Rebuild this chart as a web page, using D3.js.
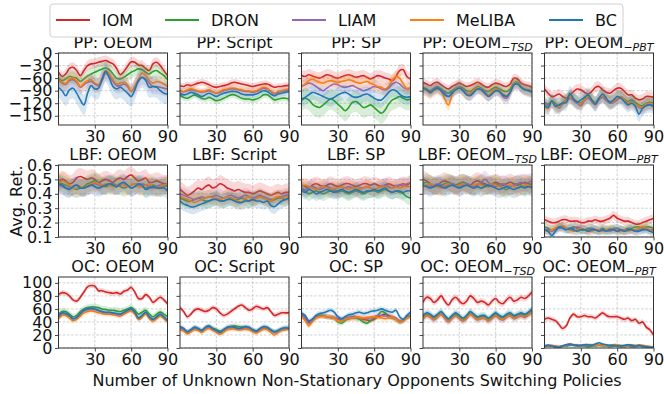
<!DOCTYPE html>
<html><head><meta charset="utf-8">
<script src="https://cdn.jsdelivr.net/npm/d3@7"></script>
<style>body{margin:0;background:#fff}svg text{font-family:"DejaVu Sans",sans-serif;fill:#111}</style>
</head><body><svg id="c" width="664" height="394"></svg>
<script>
// ---------- data ----------
const methods = ["IOM","DRON","LIAM","MeLIBA","BC"];
const colors = ["#d62728","#2ca02c","#9467bd","#ff7f0e","#1f77b4"];
const envs = ["PP","LBF","OC"];
const opponents = ["OEOM","Script","SP","OEOM","OEOM"];
const oppSubs = ["","","","−TSD","−PBT"];
const X = [0,3,6,9,12,15,18,21,24,27,30,33,36,39,42,45,48,51,54,57,60,63,66,69,72,75,78,81,84,87,90];
const xTicks = [30,60,90];
const yTicksPP = [0,-30,-60,-90,-120,-150];
const yTicksLBF = [0.1,0.2,0.3,0.4,0.5,0.6];
const yTicksOC = [0,20,40,60,80,100];

// PP (series order: IOM, DRON, LIAM, MeLIBA, BC)
const PP_OEOM = [
 [-46,-56,-50,-37,-34,-42,-54,-42,-30,-26,-25,-22,-20,-18,-22,-26,-37,-52,-44,-32,-21,-22,-29,-30,-37,-42,-26,-22,-30,-42,-54],
 [-60,-66,-62,-56,-58,-60,-68,-62,-55,-50,-46,-42,-38,-36,-40,-50,-60,-62,-58,-52,-46,-42,-38,-40,-46,-50,-44,-42,-48,-54,-64],
 [-66,-72,-75,-66,-64,-70,-82,-76,-70,-68,-74,-78,-66,-48,-56,-68,-78,-78,-74,-80,-92,-82,-68,-58,-62,-72,-80,-80,-82,-84,-86],
 [-64,-70,-72,-62,-60,-66,-80,-72,-66,-64,-72,-75,-60,-42,-50,-64,-74,-72,-70,-76,-92,-78,-62,-48,-54,-66,-72,-68,-70,-74,-80],
 [-82,-90,-102,-88,-84,-96,-112,-124,-96,-78,-86,-84,-62,-44,-60,-80,-86,-82,-88,-96,-104,-88,-66,-58,-66,-82,-80,-82,-90,-96,-98]];
const PP_Script = [
 [-78,-80,-76,-78,-75,-72,-70,-72,-76,-80,-82,-80,-78,-76,-72,-70,-72,-74,-76,-78,-80,-78,-76,-74,-74,-78,-82,-80,-80,-78,-78],
 [-100,-106,-108,-104,-100,-104,-108,-110,-106,-110,-114,-112,-108,-104,-100,-100,-104,-108,-110,-110,-112,-110,-106,-100,-100,-106,-112,-110,-108,-108,-110],
 [-90,-93,-90,-88,-90,-92,-94,-92,-90,-93,-96,-94,-90,-88,-86,-86,-88,-90,-92,-92,-94,-92,-88,-84,-86,-92,-98,-94,-92,-90,-90],
 [-88,-92,-88,-85,-88,-90,-92,-90,-88,-92,-95,-92,-88,-86,-84,-84,-86,-88,-90,-90,-92,-90,-86,-82,-84,-90,-96,-92,-90,-88,-86],
 [-96,-100,-98,-94,-96,-100,-104,-100,-96,-100,-104,-100,-96,-94,-92,-92,-94,-98,-100,-100,-100,-98,-94,-90,-92,-98,-102,-98,-96,-94,-92]];
const PP_SP = [
 [-54,-56,-52,-55,-58,-60,-56,-52,-54,-58,-60,-57,-54,-52,-55,-58,-56,-54,-58,-62,-58,-54,-56,-60,-62,-66,-56,-42,-40,-56,-62],
 [-114,-108,-112,-122,-128,-130,-124,-116,-110,-114,-122,-130,-138,-130,-118,-116,-122,-130,-128,-124,-130,-138,-144,-136,-122,-112,-108,-104,-108,-112,-110],
 [-80,-76,-72,-74,-80,-86,-90,-84,-78,-74,-76,-80,-82,-80,-78,-82,-86,-90,-88,-84,-80,-82,-86,-88,-84,-74,-70,-74,-82,-86,-84],
 [-78,-74,-66,-62,-66,-70,-72,-68,-66,-68,-70,-68,-66,-64,-66,-70,-72,-70,-68,-72,-76,-80,-82,-86,-80,-64,-56,-60,-74,-84,-82],
 [-110,-106,-100,-94,-96,-100,-104,-108,-110,-106,-100,-96,-94,-98,-104,-106,-104,-100,-98,-102,-108,-112,-112,-104,-94,-88,-90,-98,-104,-106,-104]];
const PP_TSD = [
 [-70,-74,-78,-72,-70,-76,-82,-86,-80,-76,-72,-76,-80,-78,-74,-70,-74,-80,-82,-76,-72,-74,-78,-80,-74,-60,-62,-72,-76,-78,-82],
 [-82,-86,-90,-84,-80,-86,-92,-96,-90,-84,-80,-84,-90,-92,-86,-80,-84,-90,-92,-86,-82,-86,-90,-92,-86,-72,-70,-80,-86,-88,-90],
 [-84,-88,-92,-86,-82,-88,-96,-104,-94,-86,-82,-88,-96,-100,-92,-84,-86,-94,-100,-96,-88,-92,-104,-108,-94,-76,-72,-82,-88,-90,-92],
 [-86,-90,-96,-90,-86,-92,-110,-124,-100,-86,-82,-90,-98,-96,-88,-82,-88,-96,-100,-92,-86,-90,-98,-102,-92,-74,-72,-80,-86,-90,-92],
 [-84,-88,-94,-88,-84,-90,-100,-104,-96,-88,-84,-90,-100,-102,-94,-86,-88,-96,-104,-98,-90,-92,-100,-104,-94,-76,-74,-82,-88,-90,-94]];
const PP_PBT = [
 [-86,-96,-104,-102,-98,-104,-108,-100,-92,-86,-88,-94,-98,-92,-82,-80,-88,-94,-96,-90,-84,-84,-92,-100,-100,-108,-112,-110,-104,-104,-106],
 [-118,-122,-114,-120,-126,-118,-112,-104,-110,-116,-120,-110,-106,-112,-118,-108,-104,-110,-116,-114,-108,-104,-110,-116,-112,-118,-124,-126,-120,-118,-120],
 [-120,-126,-116,-124,-132,-122,-116,-108,-114,-120,-126,-114,-108,-116,-124,-112,-106,-114,-120,-118,-112,-106,-114,-122,-116,-124,-130,-132,-124,-122,-124],
 [-128,-132,-118,-126,-130,-120,-114,-104,-112,-118,-122,-112,-104,-112,-120,-108,-102,-110,-118,-116,-108,-104,-112,-120,-118,-124,-128,-130,-122,-120,-122],
 [-126,-130,-114,-128,-124,-120,-118,-96,-110,-118,-112,-106,-100,-112,-122,-108,-98,-108,-118,-112,-104,-108,-116,-124,-120,-128,-146,-132,-126,-124,-128]];

// LBF
const LBF_OEOM = [
 [0.48,0.50,0.49,0.47,0.48,0.51,0.52,0.51,0.50,0.51,0.50,0.48,0.49,0.50,0.49,0.48,0.50,0.51,0.50,0.52,0.53,0.51,0.49,0.50,0.51,0.48,0.48,0.49,0.48,0.47,0.47],
 [0.48,0.47,0.46,0.45,0.44,0.43,0.44,0.45,0.47,0.48,0.49,0.48,0.46,0.45,0.46,0.47,0.46,0.45,0.44,0.45,0.46,0.47,0.46,0.45,0.44,0.45,0.46,0.45,0.44,0.45,0.46],
 [0.46,0.45,0.44,0.44,0.45,0.46,0.45,0.44,0.45,0.46,0.47,0.46,0.45,0.46,0.47,0.46,0.45,0.46,0.47,0.46,0.44,0.45,0.46,0.47,0.46,0.45,0.44,0.45,0.46,0.46,0.45],
 [0.47,0.49,0.48,0.46,0.44,0.44,0.45,0.44,0.46,0.47,0.48,0.47,0.46,0.47,0.46,0.45,0.46,0.47,0.46,0.45,0.46,0.47,0.45,0.45,0.46,0.47,0.45,0.44,0.45,0.46,0.47],
 [0.47,0.46,0.44,0.43,0.45,0.46,0.44,0.44,0.45,0.46,0.45,0.44,0.45,0.46,0.47,0.46,0.45,0.47,0.48,0.46,0.44,0.45,0.47,0.46,0.43,0.44,0.45,0.44,0.44,0.44,0.42]];
const LBF_Script = [
 [0.43,0.41,0.39,0.40,0.42,0.44,0.43,0.45,0.46,0.44,0.45,0.47,0.46,0.44,0.43,0.42,0.43,0.42,0.41,0.41,0.40,0.41,0.42,0.41,0.40,0.39,0.40,0.41,0.40,0.41,0.41],
 [0.37,0.36,0.35,0.35,0.36,0.37,0.36,0.35,0.35,0.36,0.37,0.36,0.35,0.36,0.37,0.36,0.36,0.37,0.36,0.35,0.36,0.37,0.38,0.37,0.36,0.35,0.36,0.37,0.37,0.36,0.38],
 [0.40,0.39,0.38,0.37,0.36,0.37,0.38,0.37,0.38,0.38,0.39,0.38,0.37,0.38,0.39,0.38,0.37,0.38,0.39,0.38,0.37,0.38,0.39,0.38,0.37,0.36,0.37,0.38,0.38,0.39,0.39],
 [0.38,0.37,0.36,0.35,0.34,0.35,0.36,0.37,0.38,0.37,0.37,0.36,0.37,0.38,0.37,0.36,0.35,0.34,0.37,0.38,0.36,0.37,0.38,0.37,0.36,0.35,0.37,0.38,0.37,0.38,0.38],
 [0.35,0.33,0.32,0.31,0.31,0.32,0.33,0.34,0.35,0.36,0.36,0.35,0.35,0.36,0.36,0.35,0.34,0.34,0.35,0.35,0.36,0.35,0.35,0.34,0.35,0.32,0.31,0.33,0.35,0.36,0.37]];
const LBF_SP = [
 [0.46,0.45,0.44,0.46,0.47,0.46,0.45,0.46,0.47,0.46,0.45,0.46,0.47,0.47,0.46,0.45,0.46,0.47,0.47,0.46,0.47,0.46,0.45,0.46,0.47,0.46,0.45,0.46,0.47,0.46,0.48],
 [0.44,0.42,0.40,0.41,0.42,0.41,0.40,0.41,0.42,0.42,0.41,0.42,0.41,0.40,0.41,0.42,0.41,0.40,0.41,0.42,0.42,0.41,0.42,0.43,0.42,0.41,0.42,0.41,0.40,0.38,0.37],
 [0.44,0.43,0.44,0.45,0.44,0.43,0.44,0.45,0.44,0.43,0.42,0.43,0.44,0.45,0.44,0.43,0.44,0.44,0.45,0.44,0.43,0.44,0.45,0.46,0.45,0.44,0.45,0.46,0.46,0.47,0.48],
 [0.45,0.46,0.45,0.44,0.43,0.44,0.45,0.44,0.43,0.44,0.44,0.45,0.44,0.43,0.44,0.44,0.43,0.44,0.45,0.44,0.43,0.44,0.45,0.45,0.44,0.44,0.45,0.44,0.45,0.45,0.45],
 [0.43,0.41,0.43,0.42,0.40,0.41,0.42,0.43,0.42,0.41,0.42,0.43,0.42,0.41,0.42,0.43,0.42,0.41,0.42,0.42,0.43,0.42,0.43,0.44,0.42,0.41,0.42,0.42,0.41,0.42,0.42]];
const LBF_TSD = [
 [0.50,0.49,0.47,0.45,0.46,0.48,0.49,0.48,0.47,0.46,0.47,0.48,0.47,0.46,0.48,0.49,0.48,0.47,0.46,0.47,0.48,0.47,0.46,0.47,0.48,0.47,0.46,0.47,0.48,0.47,0.46],
 [0.47,0.48,0.47,0.46,0.45,0.46,0.47,0.48,0.47,0.46,0.47,0.48,0.47,0.46,0.45,0.46,0.47,0.46,0.45,0.46,0.47,0.46,0.44,0.43,0.45,0.46,0.47,0.46,0.45,0.46,0.47],
 [0.45,0.46,0.45,0.46,0.47,0.46,0.45,0.46,0.47,0.46,0.45,0.46,0.47,0.46,0.45,0.46,0.48,0.50,0.48,0.46,0.45,0.46,0.47,0.46,0.45,0.46,0.47,0.48,0.47,0.48,0.49],
 [0.45,0.46,0.47,0.46,0.45,0.44,0.46,0.47,0.46,0.45,0.46,0.47,0.46,0.45,0.46,0.47,0.46,0.45,0.46,0.47,0.46,0.45,0.44,0.45,0.46,0.45,0.44,0.45,0.46,0.46,0.45],
 [0.46,0.45,0.44,0.45,0.46,0.45,0.44,0.45,0.46,0.45,0.44,0.45,0.46,0.45,0.44,0.45,0.44,0.45,0.46,0.45,0.44,0.43,0.44,0.45,0.44,0.43,0.44,0.45,0.44,0.45,0.44]];
const LBF_PBT = [
 [0.22,0.21,0.20,0.20,0.21,0.22,0.22,0.21,0.21,0.21,0.20,0.20,0.21,0.21,0.22,0.21,0.21,0.22,0.23,0.25,0.23,0.22,0.21,0.21,0.20,0.19,0.19,0.20,0.21,0.22,0.23],
 [0.17,0.16,0.15,0.16,0.17,0.17,0.16,0.16,0.17,0.16,0.15,0.15,0.16,0.16,0.15,0.15,0.16,0.15,0.15,0.16,0.16,0.15,0.15,0.16,0.16,0.17,0.17,0.16,0.17,0.17,0.16],
 [0.15,0.15,0.14,0.15,0.16,0.17,0.16,0.15,0.16,0.17,0.16,0.15,0.15,0.16,0.15,0.14,0.15,0.15,0.14,0.15,0.16,0.15,0.14,0.15,0.15,0.14,0.15,0.15,0.16,0.15,0.15],
 [0.15,0.14,0.15,0.16,0.17,0.18,0.16,0.15,0.14,0.15,0.16,0.15,0.14,0.14,0.15,0.15,0.14,0.15,0.16,0.15,0.14,0.14,0.15,0.14,0.15,0.15,0.16,0.17,0.16,0.15,0.14],
 [0.15,0.14,0.11,0.14,0.17,0.16,0.15,0.16,0.15,0.14,0.15,0.15,0.14,0.15,0.15,0.14,0.15,0.14,0.15,0.15,0.14,0.15,0.14,0.15,0.15,0.14,0.14,0.15,0.15,0.14,0.13]];

// OC
const OC_OEOM = [
 [82,85,84,80,74,72,78,86,94,96,95,88,88,86,85,84,85,83,87,89,93,86,76,76,82,78,70,74,78,74,68],
 [52,56,56,52,48,50,56,60,62,63,63,62,60,59,58,58,57,56,58,60,62,58,52,55,58,52,48,52,55,52,48],
 [48,53,52,49,45,47,52,57,59,60,59,57,55,54,54,53,52,51,54,57,59,54,46,49,54,47,44,47,51,47,42],
 [45,50,50,46,42,44,49,54,56,57,56,54,53,52,52,51,50,49,52,55,57,52,44,47,52,45,41,45,49,45,40],
 [48,54,53,50,45,47,53,58,60,61,60,58,56,55,55,54,53,52,55,58,60,55,46,50,55,48,44,48,52,48,42]];
const OC_Script = [
 [62,56,48,52,58,60,58,56,58,62,60,54,50,52,56,60,64,66,62,58,60,64,62,60,62,56,50,52,54,54,54],
 [30,28,25,27,30,29,27,30,32,30,28,26,28,31,33,34,33,32,31,30,28,26,28,30,30,27,25,26,28,30,30],
 [30,28,24,27,30,29,26,30,32,29,26,24,27,30,31,31,30,30,31,30,27,25,28,31,31,27,24,26,29,30,31],
 [28,26,22,25,28,27,24,28,30,27,24,21,24,28,29,29,28,28,29,28,25,23,26,29,28,24,20,24,27,28,30],
 [33,30,25,28,32,30,27,32,34,30,27,24,28,32,33,32,30,31,33,32,28,26,30,33,32,28,25,27,30,31,30]];
const OC_SP = [
 [52,46,40,44,48,50,49,48,47,46,45,44,44,45,46,46,45,44,43,42,44,48,50,52,50,47,44,40,42,48,50],
 [50,44,38,42,48,50,50,48,47,46,40,38,42,46,47,46,44,40,38,42,46,50,56,54,48,46,44,40,42,46,50],
 [50,45,38,42,47,49,49,48,48,47,44,43,45,47,48,48,47,46,45,46,48,50,50,49,48,48,46,42,43,47,50],
 [48,42,34,40,46,48,49,48,48,46,42,41,44,46,46,47,47,46,47,48,48,47,46,45,46,47,44,40,42,46,48],
 [54,50,42,44,50,53,54,56,58,55,48,45,48,51,52,54,55,53,54,56,57,58,60,58,56,55,58,48,44,50,55]];
const OC_TSD = [
 [70,78,76,70,74,80,72,66,74,78,72,68,72,80,76,70,72,70,66,72,76,70,68,74,78,72,74,78,76,80,86],
 [47,52,50,46,50,54,48,43,48,52,48,44,48,54,50,46,48,48,44,48,52,48,46,50,52,48,50,52,50,53,57],
 [44,49,47,43,47,51,45,40,45,49,45,41,45,51,47,43,45,45,41,45,49,45,43,47,49,45,47,49,47,50,54],
 [45,50,48,44,48,52,46,41,46,50,46,42,46,52,48,44,46,46,42,46,50,46,44,48,50,46,48,50,48,51,55],
 [50,54,52,48,52,56,50,45,50,54,50,46,50,56,52,48,50,50,46,50,54,50,48,52,54,50,52,54,52,55,60]];
const OC_PBT = [
 [44,46,44,42,36,30,34,46,52,48,48,50,48,48,46,50,54,50,48,48,48,46,44,46,42,44,38,40,32,28,20],
 [2,3,3,2,2,3,3,4,4,3,3,3,2,3,3,4,3,3,2,3,3,2,2,3,2,2,3,2,2,2,1],
 [3,4,3,3,2,3,4,5,4,4,3,4,4,5,4,5,4,4,3,4,4,3,3,4,3,3,4,3,2,2,2],
 [3,4,4,3,2,3,5,6,5,5,4,5,5,5,4,5,4,4,4,5,5,4,3,4,5,4,4,4,3,2,1],
 [3,4,3,2,1,3,5,6,5,4,4,5,5,4,6,8,6,5,4,4,3,3,4,5,4,3,4,3,2,1,1]];

// half-width of the shaded band, per panel (rows) and method (columns)
const PP_SPREAD = [[12,15,18,15,25],[8,8,8,8,8],[14,25,14,14,18],[10,12,15,15,12],[12,15,15,15,18]];
const LBF_SPREAD = [[0.06,0.06,0.06,0.06,0.06],[0.06,0.05,0.05,0.05,0.05],[0.05,0.05,0.05,0.05,0.05],[0.06,0.06,0.06,0.06,0.06],[0.03,0.03,0.03,0.03,0.03]];
const OC_SPREAD = [[4,5,4,4,4],[4,4,4,4,4],[4,4,4,4,4],[5,5,5,5,5],[4,2,2,2,2]];

// ---------- layout ----------
const svg = d3.select("#c");
const left0 = 58.5, colStep = 121.5, pw = 109;
const rowTops = [53,165,277], rowH = [72,72,71];
const rowDefs = [
 {panels:[PP_OEOM,PP_Script,PP_SP,PP_TSD,PP_PBT], spread:PP_SPREAD, dom:[-172,0], ticks:yTicksPP, fmt:d3.format("d")},
 {panels:[LBF_OEOM,LBF_Script,LBF_SP,LBF_TSD,LBF_PBT], spread:LBF_SPREAD, dom:[0.1,0.6], ticks:yTicksLBF, fmt:d3.format(".1f")},
 {panels:[OC_OEOM,OC_Script,OC_SP,OC_TSD,OC_PBT], spread:OC_SPREAD, dom:[0,109], ticks:yTicksOC, fmt:d3.format("d")}
];

rowDefs.forEach((row, r) => {
  row.panels.forEach((series, c) => {
    const x0 = left0 + c*colStep, y0 = rowTops[r], ph = rowH[r];
    const g = svg.append("g").attr("transform", `translate(${x0},${y0})`);
    const xs = d3.scaleLinear().domain([0,90]).range([0,pw]);
    const ys = d3.scaleLinear().domain(row.dom).range([ph,0]);
    const cid = `clip${r}_${c}`;
    g.append("clipPath").attr("id", cid).append("rect").attr("width", pw).attr("height", ph);
    // grid
    const grid = g.append("g").attr("stroke", "#c4c4c4").attr("stroke-width", 0.8).attr("stroke-dasharray", "2.6,1.6");
    xTicks.forEach(t => grid.append("line").attr("x1", xs(t)).attr("x2", xs(t)).attr("y1", 0).attr("y2", ph));
    row.ticks.forEach(t => grid.append("line").attr("x1", 0).attr("x2", pw).attr("y1", ys(t)).attr("y2", ys(t)));
    // series
    const plot = g.append("g").attr("clip-path", `url(#${cid})`);
    series.forEach((vals, i) => {
      const w = row.spread[c][i];
      const pts = X.map((x, j) => ({x, y: vals[j]}));
      const area = d3.area().curve(d3.curveCatmullRom.alpha(0.5))
        .x(d => xs(d.x)).y0(d => ys(d.y - w)).y1(d => ys(d.y + w));
      const line = d3.line().curve(d3.curveCatmullRom.alpha(0.5)).x(d => xs(d.x)).y(d => ys(d.y));
      plot.append("path").attr("d", area(pts)).attr("fill", colors[i]).attr("fill-opacity", 0.18);
      plot.append("path").attr("d", line(pts)).attr("fill", "none").attr("stroke", colors[i]).attr("stroke-width", 1.6);
    });
    // axes
    const xa = g.append("g").attr("transform", `translate(0,${ph})`)
      .call(d3.axisBottom(xs).tickValues(xTicks).tickSize(3.5).tickPadding(2));
    const ya = g.append("g")
      .call(d3.axisLeft(ys).tickValues(row.ticks).tickSize(3.5).tickPadding(2.5)
        .tickFormat(c === 0 ? row.fmt : () => ""));
    [xa, ya].forEach(a => {
      a.select(".domain").remove();
      a.attr("font-size", null).attr("font-family", null);
      a.selectAll("line").attr("stroke", "#333").attr("stroke-width", 0.9);
      a.selectAll("text").attr("font-size", "16px").attr("fill", "#111");
    });
    // spines
    g.append("rect").attr("width", pw).attr("height", ph).attr("fill", "none").attr("stroke", "#333").attr("stroke-width", 1);
    // title
    const t = g.append("text").attr("x", pw/2).attr("y", -5).attr("text-anchor", "middle").attr("font-size", "16px");
    t.append("tspan").text(`${envs[r]}: ${opponents[c]}`);
    if (oppSubs[c]) t.append("tspan").attr("font-size", "11px").attr("font-style", "italic").attr("dy", 3).text(oppSubs[c]);
  });
});

// axis labels
svg.append("text").attr("transform", "translate(22,201) rotate(-90)").attr("text-anchor", "middle").attr("font-size", "16px").text("Avg. Ret.");
svg.append("text").attr("x", 357).attr("y", 386).attr("text-anchor", "middle").attr("font-size", "16px").text("Number of Unknown Non-Stationary Opponents Switching Policies");

// legend
const lg = svg.append("g");
lg.append("rect").attr("x", 50).attr("y", 4).attr("width", 573).attr("height", 33).attr("rx", 3)
  .attr("fill", "#fff").attr("stroke", "#d0d0d0").attr("stroke-width", 1);
const legX = [56,165,292,410,549];
methods.forEach((m, i) => {
  lg.append("line").attr("x1", legX[i]).attr("x2", legX[i]+34).attr("y1", 20).attr("y2", 20)
    .attr("stroke", colors[i]).attr("stroke-width", 2);
  lg.append("text").attr("x", legX[i]+46).attr("y", 26).attr("font-size", "16px").text(m);
});
</script></body></html>
